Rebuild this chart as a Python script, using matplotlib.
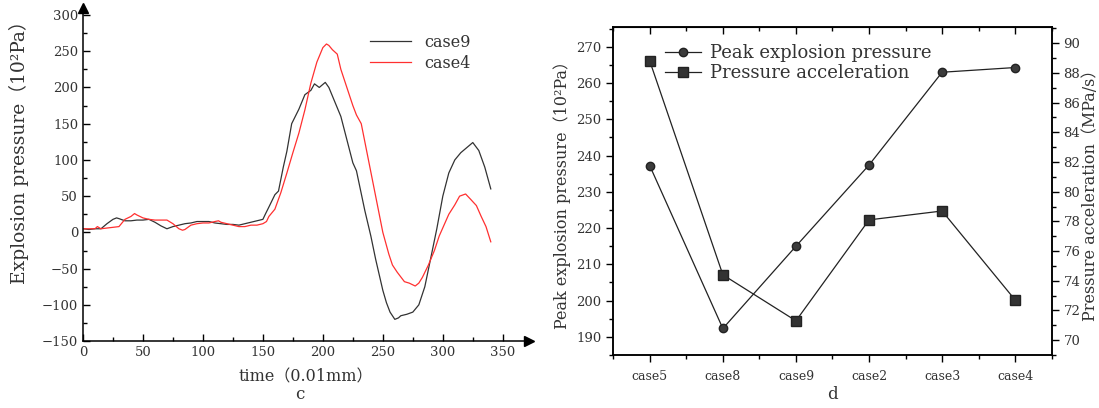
import matplotlib.pyplot as plt
from matplotlib.ticker import MultipleLocator, FixedLocator

plt.rcParams['font.family'] = ['DejaVu Serif', 'Noto Sans CJK SC']
plt.rcParams['axes.unicode_minus'] = True

# ---- panel c: pressure curves ----
t9 = [0, 5, 10, 15, 20, 25, 28, 30, 35, 40, 45, 50, 55, 60, 65, 70, 75, 80, 85, 90,
      95, 100, 105, 110, 115, 120, 125, 130, 135, 140, 145, 150, 152, 155, 160, 163,
      167, 170, 174, 180, 185, 190, 193, 197, 202, 205, 210, 215, 220, 225, 228, 235,
      240, 244, 250, 253, 256, 260, 263, 265, 270, 275, 280, 285, 290, 295, 300, 305,
      310, 315, 320, 325, 330, 335, 340]
case9 = [5, 4, 5, 5, 12, 18, 20, 19, 16, 16, 17, 17, 18, 14, 9, 5, 8, 10, 12, 13,
         15, 15, 15, 13, 12, 11, 11, 10, 12, 14, 16, 18, 25, 35, 52, 57,
         90, 112, 150, 170, 190, 196, 205, 200, 207, 200, 180, 160, 128, 96, 85, 30,
         -5, -37, -80, -97, -110, -120, -118, -115, -113, -110, -100, -75, -35, 5, 50, 82,
         100, 110, 117, 124, 113, 90, 60]

t4 = [0, 5, 10, 12, 15, 20, 25, 30, 32, 35, 40, 43, 45, 50, 55, 60, 65, 70, 75, 80,
      83, 85, 90, 95, 100, 105, 110, 113, 115, 120, 125, 130, 135, 140, 145, 150, 153,
      155, 160, 165, 170, 175, 180, 185, 190, 195, 200, 203, 205, 208, 212, 215, 220,
      225, 228, 232, 238, 244, 250, 255, 258, 262, 268, 272, 277, 280, 283, 288, 293,
      297, 301, 305, 310, 314, 319, 323, 328, 332, 336, 340]
case4 = [5, 5, 5, 8, 5, 6, 7, 8, 12, 18, 22, 26, 24, 20, 18, 17, 17, 17, 12, 5,
         3, 4, 10, 12, 13, 13, 15, 16, 14, 12, 10, 8, 8, 10, 10, 12, 15,
         22, 32, 55, 82, 110, 137, 169, 206, 235, 255, 260, 258, 252, 246, 225, 200,
         175, 162, 150, 100, 50, 0, -30, -45, -55, -68, -70, -74, -70, -62, -45, -25,
         -5, 10, 25, 38, 50, 53, 46, 37, 22, 8, -13]

# ---- panel d: peak pressure and pressure acceleration ----
cases = ['case5', 'case8', 'case9', 'case2', 'case3', 'case4']
peak_pressure = [237.2, 192.3, 215.0, 237.4, 263.0, 264.3]
pressure_acc = [88.8, 74.4, 71.3, 78.1, 78.7, 72.7]

txt = '#333333'
fig = plt.figure(figsize=(10.99, 4.08), dpi=100)

# ===== left panel =====
ax1 = fig.add_axes([0.0755, 0.164, 0.406, 0.817])
ax1.plot(t9, case9, color='#333333', lw=0.9, label='case9')
ax1.plot(t4, case4, color='#ff3030', lw=0.9, label='case4')
ax1.set_xlim(0, 372)
ax1.set_ylim(-150, 310)
ax1.spines['top'].set_visible(False)
ax1.spines['right'].set_visible(False)
# arrow heads at the end of both axes
ax1.plot(1, 0, '>k', ms=7, transform=ax1.transAxes, clip_on=False)
ax1.plot(0, 1, '^k', ms=7, transform=ax1.transAxes, clip_on=False)
ax1.xaxis.set_major_locator(FixedLocator([0, 50, 100, 150, 200, 250, 300, 350]))
ax1.xaxis.set_minor_locator(FixedLocator([25, 75, 125, 175, 225, 275, 325]))
ax1.yaxis.set_major_locator(FixedLocator([-150, -100, -50, 0, 50, 100, 150, 200, 250, 300]))
ax1.yaxis.set_minor_locator(FixedLocator([-125, -75, -25, 25, 75, 125, 175, 225, 275]))
ax1.tick_params(which='both', direction='in', labelsize=9.5, labelcolor=txt, width=1)
ax1.tick_params(which='major', length=5)
ax1.tick_params(which='minor', length=3)
ax1.set_xlabel('time（0.01mm）', fontsize=11.5, color=txt, labelpad=7)
ax1.set_ylabel('Explosion pressure（10²Pa）', fontsize=13.5, color=txt)
ax1.yaxis.set_label_coords(-0.122, 0.58)
ax1.legend(loc='upper left', bbox_to_anchor=(0.61, 0.965), frameon=False,
           fontsize=11.5, handlelength=2.6, labelspacing=0.25, labelcolor=txt)
fig.text(0.273, 0.032, 'c', fontsize=12, color=txt, ha='center', va='center')

# ===== right panel =====
ax2 = fig.add_axes([0.558, 0.130, 0.399, 0.804])
x = list(range(len(cases)))
l1, = ax2.plot(x, peak_pressure, color='#222222', lw=0.9, marker='o', ms=6,
               mfc='#3c3c3c', mec='#222222', label='Peak explosion pressure')
ax2.set_xlim(-0.5, 5.5)
ax2.set_ylim(185, 275.5)
ax2.set_xticks(x)
ax2.set_xticklabels(cases)
ax2.xaxis.set_minor_locator(FixedLocator([-0.5, 0.5, 1.5, 2.5, 3.5, 4.5, 5.5]))
ax2.yaxis.set_major_locator(MultipleLocator(10))
ax2.yaxis.set_minor_locator(MultipleLocator(5))
ax2.tick_params(which='both', direction='out', labelsize=9.5, labelcolor=txt, width=1)
ax2.tick_params(which='major', length=5)
ax2.tick_params(which='minor', length=3)
ax2.tick_params(axis='x', labelsize=9, pad=6)
ax2.set_xlabel('d', fontsize=12, color=txt, labelpad=2)
ax2.set_ylabel('Peak explosion pressure（10²Pa）', fontsize=11.5, color=txt, labelpad=4)

top = ax2.secondary_xaxis('top')
top.set_xticks(x)
top.xaxis.set_minor_locator(FixedLocator([-0.5, 0.5, 1.5, 2.5, 3.5, 4.5, 5.5]))
top.tick_params(which='both', direction='in', labeltop=False, width=1)
top.tick_params(which='major', length=5)
top.tick_params(which='minor', length=3)

ax3 = ax2.twinx()
l2, = ax3.plot(x, pressure_acc, color='#222222', lw=0.9, marker='s', ms=7,
               mfc='#333333', mec='#222222', label='Pressure acceleration')
ax3.set_ylim(69, 91.1)
ax3.yaxis.set_major_locator(MultipleLocator(2))
ax3.yaxis.set_minor_locator(MultipleLocator(1))
ax3.tick_params(which='both', direction='out', labelsize=9.5, labelcolor=txt, width=1)
ax3.tick_params(which='major', length=5)
ax3.tick_params(which='minor', length=3)
ax3.set_ylabel('Pressure acceleration（MPa/s）', fontsize=11.5, color=txt, labelpad=1)

ax2.legend(handles=[l1, l2], loc='upper left', bbox_to_anchor=(0.08, 0.997),
           frameon=False, fontsize=13, handlelength=2.0, labelspacing=0.1,
           handletextpad=0.5, labelcolor=txt)

for a in (ax1, ax2, ax3):
    for s in a.spines.values():
        s.set_linewidth(1.1)

fig.savefig('out.png', dpi=100)
